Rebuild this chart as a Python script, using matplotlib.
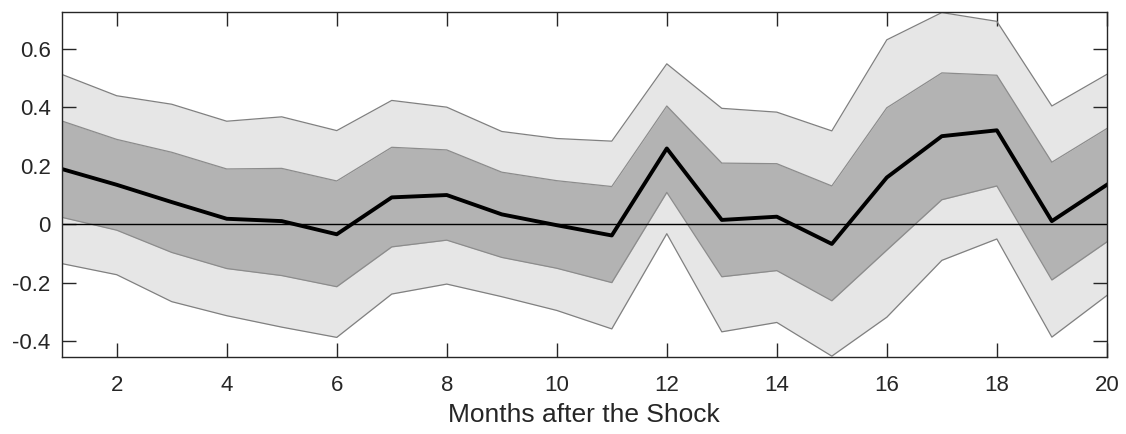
import matplotlib
matplotlib.use("Agg")
import matplotlib.pyplot as plt
import numpy as np

months = list(range(1, 21))
median = [0.189, 0.135, 0.076, 0.019, 0.011, -0.034, 0.092, 0.100, 0.034, -0.003,
          -0.038, 0.259, 0.015, 0.026, -0.067, 0.160, 0.301, 0.321, 0.011, 0.135]
outer_upper = [0.512, 0.439, 0.410, 0.352, 0.367, 0.320, 0.423, 0.400, 0.317, 0.293,
               0.284, 0.548, 0.396, 0.383, 0.319, 0.630, 0.723, 0.693, 0.404, 0.512]
inner_upper = [0.353, 0.290, 0.246, 0.189, 0.191, 0.148, 0.263, 0.254, 0.178, 0.149,
               0.129, 0.404, 0.209, 0.207, 0.131, 0.398, 0.517, 0.509, 0.212, 0.327]
inner_lower = [0.024, -0.020, -0.096, -0.151, -0.175, -0.213, -0.077, -0.054, -0.113, -0.150,
               -0.199, 0.109, -0.179, -0.158, -0.261, -0.088, 0.084, 0.131, -0.190, -0.060]
outer_lower = [-0.134, -0.172, -0.264, -0.312, -0.351, -0.386, -0.238, -0.204, -0.247, -0.294,
               -0.357, -0.032, -0.367, -0.335, -0.450, -0.317, -0.123, -0.050, -0.385, -0.243]

xticks = [2, 4, 6, 8, 10, 12, 14, 16, 18, 20]
yticks = [-0.4, -0.2, 0, 0.2, 0.4, 0.6]
ytick_labels = ["-0.4", "-0.2", "0", "0.2", "0.4", "0.6"]
xlabel = "Months after the Shock"

plt.rcParams['font.family'] = ['Liberation Sans', 'DejaVu Sans']

fig = plt.figure(figsize=(11.26, 4.34), dpi=100)
ax = fig.add_axes([0.0548, 0.1774, 0.9282, 0.7950])

ax.fill_between(months, outer_lower, outer_upper, color='#e6e6e6', linewidth=0, zorder=1)
ax.fill_between(months, inner_lower, inner_upper, color='#b3b3b3', linewidth=0, zorder=2)
for band in (outer_upper, outer_lower):
    ax.plot(months, band, color='#808080', linewidth=0.9, zorder=3)
for band in (inner_upper, inner_lower):
    ax.plot(months, band, color='#8c8c8c', linewidth=0.9, zorder=3)
ax.axhline(0, color='black', linewidth=1.0, zorder=4)
ax.plot(months, median, color='black', linewidth=2.8, zorder=5)

ax.set_xlim(1, 20)
ax.set_ylim(-0.453, 0.725)
ax.set_xticks(xticks)
ax.set_yticks(yticks)
ax.set_yticklabels(ytick_labels)
ax.tick_params(direction='in', length=10, width=1, colors='#262626', labelsize=16,
               top=True, right=True, pad=8)
ax.tick_params(axis='x', pad=13)
for sp in ax.spines.values():
    sp.set_color('#262626')
    sp.set_linewidth(1.0)
    sp.set_zorder(6)
ax.set_xlabel(xlabel, fontsize=19, color='#262626', labelpad=5)

fig.savefig("out.png", dpi=100)
